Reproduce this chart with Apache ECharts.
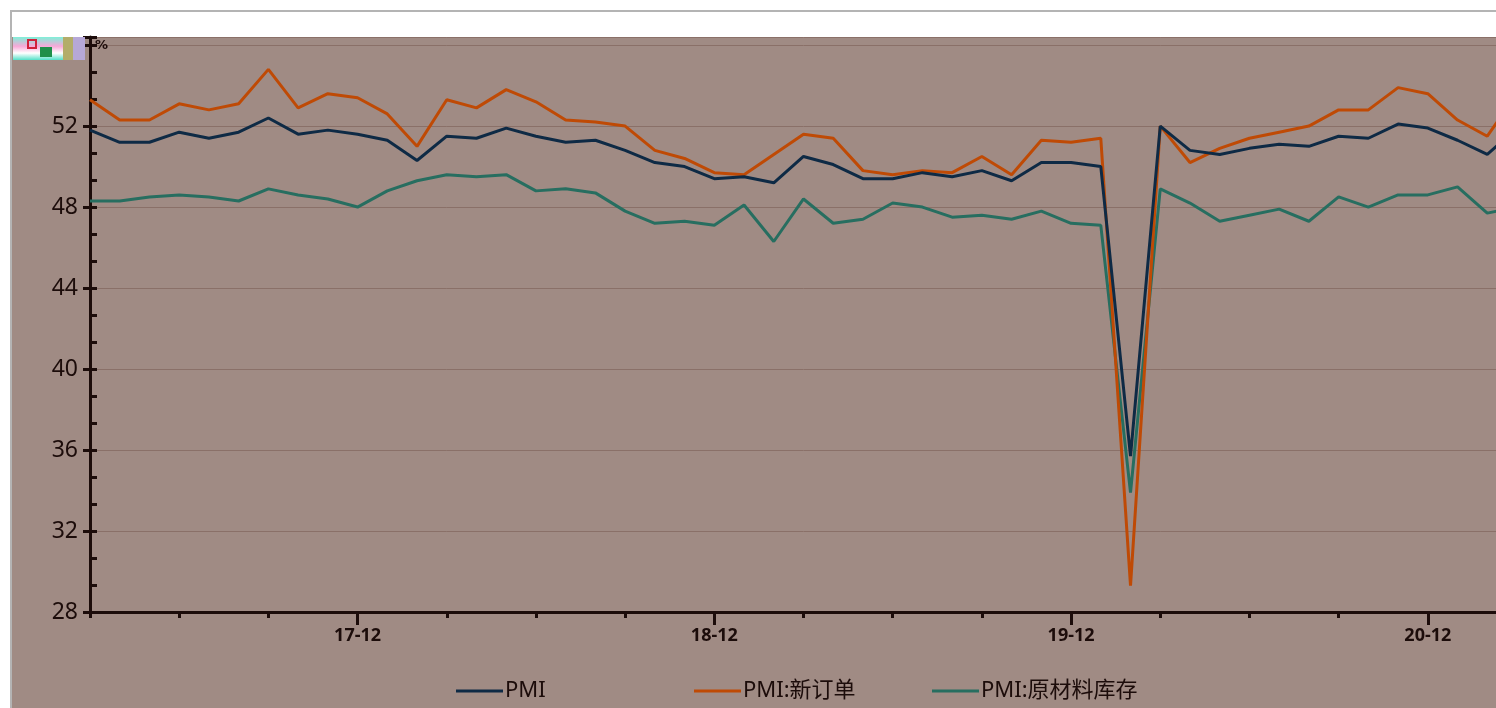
<!DOCTYPE html>
<html>
<head>
<meta charset="utf-8">
<script src="https://cdn.jsdelivr.net/npm/echarts@6/dist/echarts.min.js"></script>
<style>
html,body{margin:0;padding:0;background:#fff;overflow:hidden;width:1496px;height:708px;}
#c{width:1540px;height:708px;}
</style>
</head>
<body>
<div id="c"></div>
<script>
// Months 2017-03 .. 2021-03
const months = [
 '17-03','17-04','17-05','17-06','17-07','17-08','17-09','17-10','17-11','17-12',
 '18-01','18-02','18-03','18-04','18-05','18-06','18-07','18-08','18-09','18-10','18-11','18-12',
 '19-01','19-02','19-03','19-04','19-05','19-06','19-07','19-08','19-09','19-10','19-11','19-12',
 '20-01','20-02','20-03','20-04','20-05','20-06','20-07','20-08','20-09','20-10','20-11','20-12',
 '21-01','21-02','21-03'
];
const pmi = [
 51.8,51.2,51.2,51.7,51.4,51.7,52.4,51.6,51.8,51.6,
 51.3,50.3,51.5,51.4,51.9,51.5,51.2,51.3,50.8,50.2,50.0,49.4,
 49.5,49.2,50.5,50.1,49.4,49.4,49.7,49.5,49.8,49.3,50.2,50.2,
 50.0,35.7,52.0,50.8,50.6,50.9,51.1,51.0,51.5,51.4,52.1,51.9,
 51.3,50.6,51.9
];
const newOrders = [
 53.3,52.3,52.3,53.1,52.8,53.1,54.8,52.9,53.6,53.4,
 52.6,51.0,53.3,52.9,53.8,53.2,52.3,52.2,52.0,50.8,50.4,49.7,
 49.6,50.6,51.6,51.4,49.8,49.6,49.8,49.7,50.5,49.6,51.3,51.2,
 51.4,29.3,52.0,50.2,50.9,51.4,51.7,52.0,52.8,52.8,53.9,53.6,
 52.3,51.5,53.6
];
const rawInventory = [
 48.3,48.3,48.5,48.6,48.5,48.3,48.9,48.6,48.4,48.0,
 48.8,49.3,49.6,49.5,49.6,48.8,48.9,48.7,47.8,47.2,47.3,47.1,
 48.1,46.3,48.4,47.2,47.4,48.2,48.0,47.5,47.6,47.4,47.8,47.2,
 47.1,33.9,48.9,48.2,47.3,47.6,47.9,47.3,48.5,48.0,48.6,48.6,
 49.0,47.7,48.0
];
const seriesNames = ['PMI','PMI:新订单','PMI:原材料库存'];
const yTicks = [28,32,36,40,44,48,52];

const INK = '#1c0c0a';
const BG = '#a08b84';
const chart = echarts.init(document.getElementById('c'), null, {renderer:'canvas'});
const font = '"Noto Sans","Noto Sans CJK SC",sans-serif';

chart.setOption({
  backgroundColor: 'transparent',
  animation: false,
  graphic: [
    {type:'rect', silent:true, z:-10, shape:{x:12,y:37,width:1528,height:671}, style:{fill:BG}},
    {type:'rect', silent:true, z:-10, shape:{x:11,y:10,width:1529,height:2}, style:{fill:'#b4b4b4'}},
    {type:'rect', silent:true, z:-10, shape:{x:10,y:10,width:2,height:698}, style:{fill:'#b4b4b4'}},
    {type:'rect', silent:true, z:5, shape:{x:13,y:37,width:50,height:23},
      style:{fill:new echarts.graphic.LinearGradient(0,0,0,1,[{offset:0,color:'#7ff0d8'},{offset:0.4,color:'#f7a8d8'},{offset:0.7,color:'#ffffff'},{offset:1,color:'#55e0c8'}])}},
    {type:'rect', silent:true, z:6, shape:{x:28,y:40,width:8,height:8}, style:{fill:'none',stroke:'#d0203a',lineWidth:2}},
    {type:'rect', silent:true, z:6, shape:{x:40,y:47,width:12,height:10}, style:{fill:'#1f8f4a'}},
    {type:'rect', silent:true, z:5, shape:{x:63,y:37,width:10,height:23}, style:{fill:'#b3ad6a'}},
    {type:'rect', silent:true, z:5, shape:{x:73,y:37,width:12,height:23}, style:{fill:'#b6a8d8'}},
    {type:'text', silent:true, z:6, left:95, top:39, style:{text:'%', fill:INK, font:'bold 13px "DejaVu Sans",sans-serif'}}
  ],
  grid: {left:90, top:37, width:1427, height:575, containLabel:false, outerBoundsMode:'none'},
  legend: [
    {data:[seriesNames[0]], left:451, top:675, icon:'rect', itemWidth:47, itemHeight:3, itemGap:0,
     textStyle:{color:INK, fontSize:22, fontFamily:font, padding:[0,0,0,-3]}},
    {data:[seriesNames[1]], left:689, top:675, icon:'rect', itemWidth:47, itemHeight:3, itemGap:0,
     textStyle:{color:INK, fontSize:22, fontFamily:font, padding:[0,0,0,-3]}},
    {data:[seriesNames[2]], left:927, top:675, icon:'rect', itemWidth:47, itemHeight:3, itemGap:0,
     textStyle:{color:INK, fontSize:22, fontFamily:font, padding:[0,0,0,-3]}}
  ],
  xAxis: [
    {
      type:'category', data:months, boundaryGap:false, position:'bottom',
      axisLine:{show:true, lineStyle:{color:INK, width:3}},
      axisTick:{show:true, length:6, lineStyle:{color:INK, width:3},
        interval:function(i){return i%3===0 && months[i].slice(3)!=='12';}},
      axisLabel:{show:false},
      splitLine:{show:false}
    },
    {
      type:'category', data:months, boundaryGap:false, position:'bottom', gridIndex:0,
      axisLine:{show:false},
      axisTick:{show:true, length:13, lineStyle:{color:INK, width:3},
        interval:function(i){return months[i].slice(3)==='12';}},
      axisLabel:{show:true, color:INK, fontSize:18, fontWeight:'bold', fontFamily:font, margin:15,
        interval:function(i){return months[i].slice(3)==='12';}},
      splitLine:{show:false}
    }
  ],
  yAxis: [
    {
      type:'value', min:28, max:56.4, interval:4,
      axisLine:{show:true, lineStyle:{color:INK, width:3}},
      axisTick:{show:true, length:7, lineStyle:{color:INK, width:3}},
      axisLabel:{color:INK, fontSize:23, fontFamily:font, margin:12,
        formatter:function(v){return yTicks.indexOf(v)>=0 ? String(v) : '';}},
      splitLine:{show:true, lineStyle:{color:'#8a7068', width:1}}
    },
    {
      type:'value', min:28, max:56.4, interval:4/3, position:'left',
      axisLine:{show:false},
      axisTick:{show:true, inside:true, length:7, lineStyle:{color:INK, width:3}},
      axisLabel:{show:false},
      splitLine:{show:false}
    }
  ],
  series: [
    {name:seriesNames[0], type:'line', data:pmi, symbol:'none', z:4,
     lineStyle:{color:'#0e2a45', width:3}, itemStyle:{color:'#0e2a45'}},
    {name:seriesNames[1], type:'line', data:newOrders, symbol:'none', z:3,
     lineStyle:{color:'#bf4a05', width:3}, itemStyle:{color:'#bf4a05'}},
    {name:seriesNames[2], type:'line', data:rawInventory, symbol:'none', z:2,
     lineStyle:{color:'#276e60', width:3}, itemStyle:{color:'#276e60'}}
  ]
});
</script>
</body>
</html>
